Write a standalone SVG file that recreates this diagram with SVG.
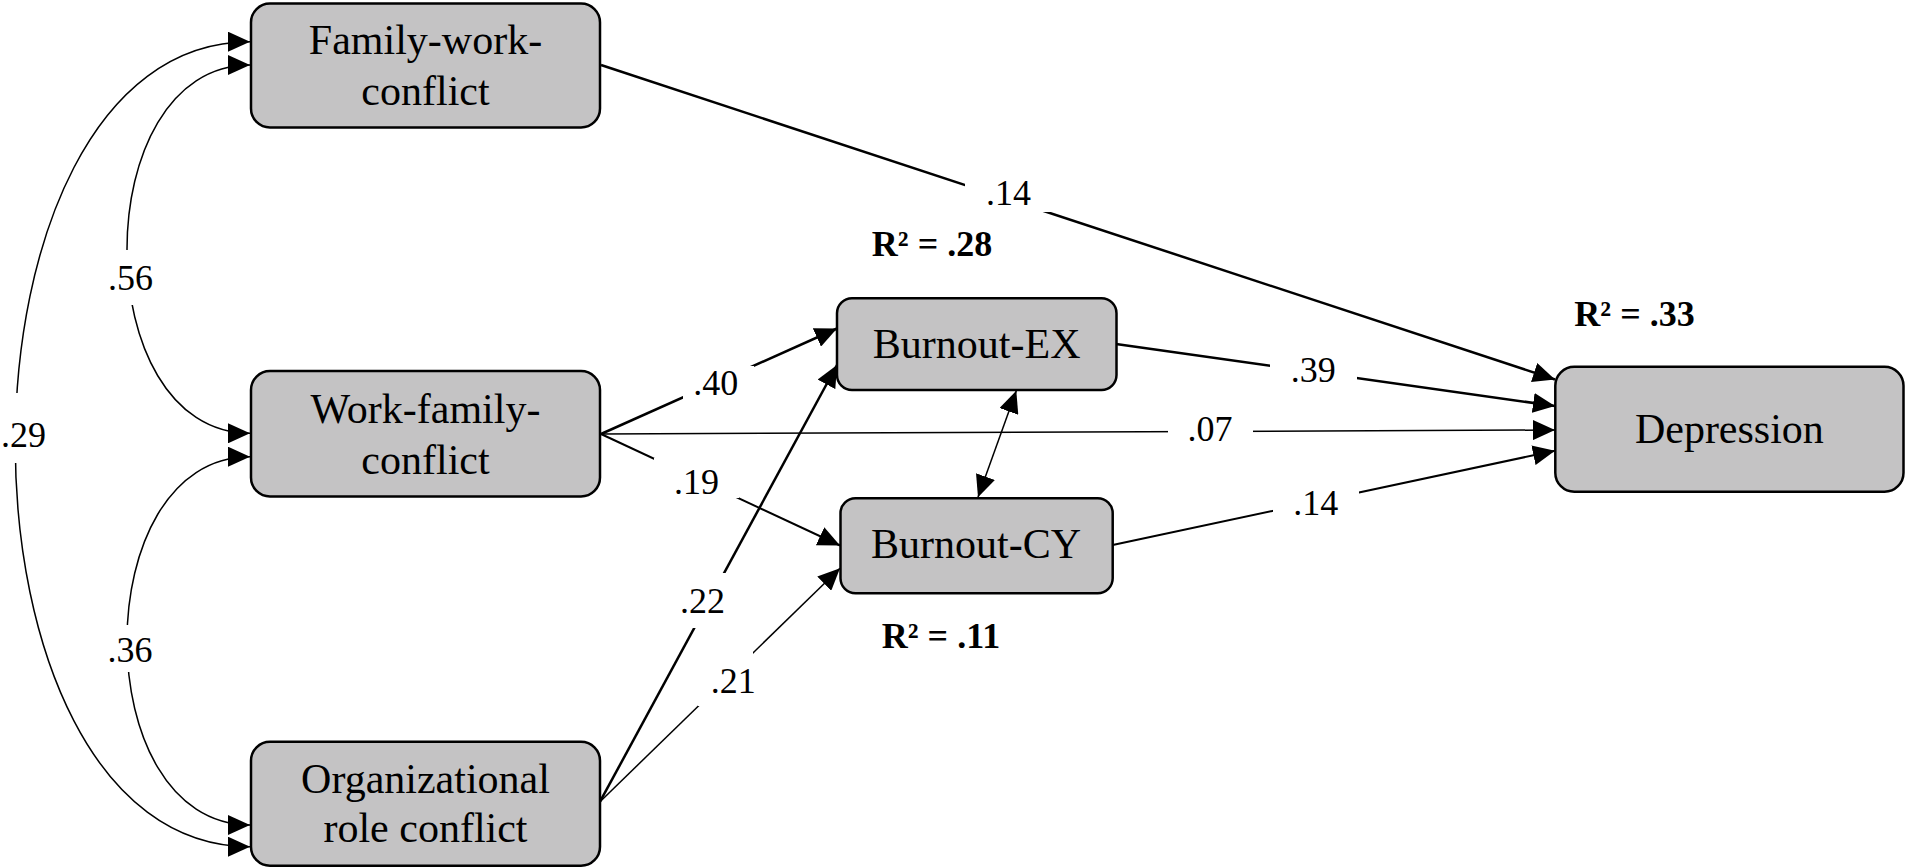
<svg xmlns="http://www.w3.org/2000/svg" width="1911" height="867" viewBox="0 0 1911 867">
<style>
.box{fill:#c4c3c4;stroke:#000;stroke-width:2.5}
.nt{font-family:"Liberation Serif","Times New Roman",serif;font-size:42px;text-anchor:middle;fill:#000}
.lb{font-family:"Liberation Serif","Times New Roman",serif;font-size:36px;text-anchor:middle;fill:#000}
.r2{font-family:"Liberation Serif","Times New Roman",serif;font-size:36px;font-weight:bold;text-anchor:middle;fill:#000}
.c{fill:none;stroke:#000}
.w1{stroke-width:1.5}
.w2{stroke-width:2}
.w3{stroke-width:2.5}
.bg{fill:#fff}
</style>
<defs>
<marker id="ah" viewBox="0 0 22 20" refX="22" refY="10" markerWidth="22" markerHeight="20" markerUnits="userSpaceOnUse" orient="auto-start-reverse">
<path d="M0,0 L22,10 L0,20 Z" fill="#000"/>
</marker>
</defs>
<rect width="1911" height="867" fill="#fff"/>
<g id="connectors">
<path class="c w1" d="M250,41.7 C-63,41.7 -63,846.7 250,846.7" marker-start="url(#ah)" marker-end="url(#ah)"/>
<path class="c w1" d="M250,65 C86,65 86,433.3 250,433.3" marker-start="url(#ah)" marker-end="url(#ah)"/>
<path class="c w1" d="M250,456.7 C86,456.7 86,825 250,825" marker-start="url(#ah)" marker-end="url(#ah)"/>
<path class="c w3" d="M601,65 L1555,379.5" marker-end="url(#ah)"/>
<path class="c w3" d="M601,434 L837,328.5" marker-end="url(#ah)"/>
<path class="c w1" d="M601,434 L1555,430" marker-end="url(#ah)"/>
<path class="c w2" d="M601,434 L840,545.5" marker-end="url(#ah)"/>
<path class="c w3" d="M600,801.7 L837,365" marker-end="url(#ah)"/>
<path class="c w1" d="M600,801.7 L840,568.3" marker-end="url(#ah)"/>
<path class="c w1" d="M1016.3,390.7 L978,497.3" marker-start="url(#ah)" marker-end="url(#ah)"/>
<path class="c w3" d="M1116,344 L1555,406" marker-end="url(#ah)"/>
<path class="c w2" d="M1112.7,545 L1555,450.7" marker-end="url(#ah)"/>
</g>
<g id="labels">
<rect class="bg" x="965" y="172" width="86" height="40"/>
<text class="lb" x="1008.6" y="205">.14</text>
<rect class="bg" x="683" y="366" width="71" height="33"/>
<text class="lb" x="715.8" y="395">.40</text>
<rect class="bg" x="654" y="458" width="85" height="40"/>
<text class="lb" x="696.6" y="494">.19</text>
<rect class="bg" x="680" y="573" width="46" height="55"/>
<text class="lb" x="702.5" y="613">.22</text>
<rect class="bg" x="698" y="652" width="55" height="54"/>
<text class="lb" x="733.3" y="693">.21</text>
<rect class="bg" x="1270" y="352" width="87" height="34"/>
<text class="lb" x="1313.3" y="381.7">.39</text>
<rect class="bg" x="1168" y="412" width="85" height="36"/>
<text class="lb" x="1210" y="440.7">.07</text>
<rect class="bg" x="1273" y="489" width="86" height="34"/>
<text class="lb" x="1315.8" y="515">.14</text>
<rect class="bg" x="105" y="250" width="50" height="55"/>
<text class="lb" x="130.4" y="290">.56</text>
<rect class="bg" x="105" y="625" width="50" height="47"/>
<text class="lb" x="130" y="662">.36</text>
<rect class="bg" x="0" y="393" width="47" height="70"/>
<text class="lb" x="23.5" y="447">.29</text>
<text class="r2" x="932" y="256">R² = .28</text>
<text class="r2" x="941" y="648">R² = .11</text>
<text class="r2" x="1634.5" y="326">R² = .33</text>
</g>
<g id="node-family-work-conflict">
<rect class="box" x="251" y="3.5" width="349" height="124" rx="19"/>
<text class="nt" x="425.5" y="54.3">Family-work-</text>
<text class="nt" x="425.5" y="105">conflict</text>
</g>
<g id="node-work-family-conflict">
<rect class="box" x="251" y="371" width="349" height="125.5" rx="19"/>
<text class="nt" x="425.5" y="423.3">Work-family-</text>
<text class="nt" x="425.5" y="474">conflict</text>
</g>
<g id="node-organizational-role-conflict">
<rect class="box" x="251" y="741.7" width="349" height="124" rx="19"/>
<text class="nt" x="425.5" y="792.7">Organizational</text>
<text class="nt" x="425.5" y="842.3">role conflict</text>
</g>
<g id="node-burnout-ex">
<rect class="box" x="837" y="298.3" width="279.5" height="91.7" rx="15"/>
<text class="nt" x="976.7" y="358.3">Burnout-EX</text>
</g>
<g id="node-burnout-cy">
<rect class="box" x="840.5" y="498.3" width="272.2" height="95" rx="15"/>
<text class="nt" x="976" y="558.3">Burnout-CY</text>
</g>
<g id="node-depression">
<rect class="box" x="1555.3" y="366.7" width="348.2" height="125" rx="19"/>
<text class="nt" x="1729.4" y="443.3">Depression</text>
</g>
</svg>
